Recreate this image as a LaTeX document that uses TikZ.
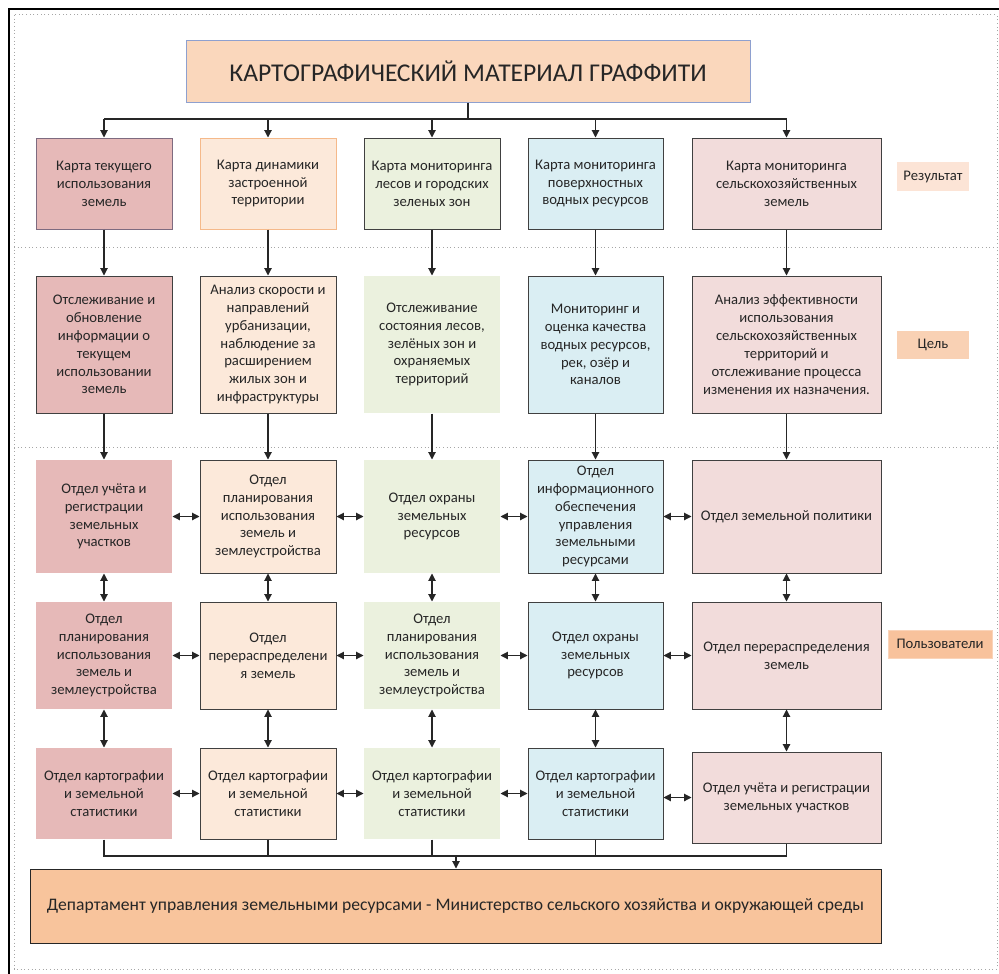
\documentclass[tikz,border=0pt]{standalone}
\usepackage{fontspec}
\setmainfont{Carlito}
\usetikzlibrary{arrows.meta}
\definecolor{pinkA}{HTML}{E6B9B8}
\definecolor{peachL}{HTML}{FCE9DA}
\definecolor{greenL}{HTML}{EBF1DE}
\definecolor{blueL}{HTML}{DAEEF3}
\definecolor{pinkL}{HTML}{F2DCDB}
\definecolor{titlefill}{HTML}{FAD7BC}
\definecolor{titleborder}{HTML}{8EA0CF}
\definecolor{bottomfill}{HTML}{F8C49C}
\definecolor{bdark}{HTML}{404040}
\definecolor{bpurple}{HTML}{7E6B80}
\definecolor{borange}{HTML}{F5B98A}
\definecolor{txt}{HTML}{262626}
\definecolor{resfill}{HTML}{FCE4D6}
\definecolor{celfill}{HTML}{F9D1B4}
\definecolor{polfill}{HTML}{F8C29C}
\begin{document}
\begin{tikzpicture}[x=0.75pt,y=-0.75pt,
  box/.style={draw=bdark, line width=0.75pt, align=center, inner sep=1pt, text=txt,
    font=\fontsize{11}{13.4}\selectfont},
  sz/.style 2 args={minimum width=#1*0.75pt, minimum height=#2*0.75pt},
  lbl/.style={align=center, inner sep=1pt, text=txt, font=\fontsize{11}{13.4}\selectfont},
  con/.style={draw=black!85, line width=0.8pt},
  arr/.style={con, -{Triangle[length=5.5pt,width=5.5pt]}},
  darr/.style={con, {Triangle[length=5.5pt,width=5.5pt]}-{Triangle[length=5.5pt,width=5.5pt]}},
  sep/.style={draw=gray!70, line width=0.75pt, dotted}]
\useasboundingbox (0,0) rectangle (999,974);
% frames
\draw[sep] (14,15) rectangle (997,969);
\draw[black, line width=2pt] (9,974) -- (9,9) -- (999,9);
\draw[sep] (14,247) -- (997,247);
\draw[sep] (14,447) -- (997,447);

% title
\node[box, draw=titleborder, fill=titlefill, sz={564}{61}, font=\fontsize{19.2}{23}\selectfont] (title) at (468,71.5) {КАРТОГРАФИЧЕСКИЙ МАТЕРИАЛ ГРАФФИТИ};

% row 1
\node[box, draw=bpurple, fill=pinkA, sz={136}{91}] (a1) at (104,183.5) {Карта текущего\\использования\\земель};
\node[box, draw=borange, fill=peachL, sz={136}{91}] (a2) at (268,183.5) {Карта динамики\\застроенной\\территории};
\node[box, fill=greenL, sz={136}{91}] (a3) at (432,183.5) {Карта мониторинга\\лесов и городских\\зеленых зон};
\node[box, fill=blueL, sz={135}{91}] (a4) at (595.5,183.5) {Карта мониторинга\\поверхностных\\водных ресурсов};
\node[box, fill=pinkL, sz={189}{91}] (a5) at (786.5,183.5) {Карта мониторинга\\сельскохозяйственных\\земель};
\node[lbl, fill=resfill, sz={72}{29}] (res) at (933,176.5) {Результат};

% row 2
\node[box, fill=pinkA, sz={136}{137}] (b1) at (104,344.5) {Отслеживание и\\обновление\\информации о\\текущем\\использовании\\земель};
\node[box, fill=peachL, sz={136}{137}] (b2) at (268,344.5) {Анализ скорости и\\направлений\\урбанизации,\\наблюдение за\\расширением\\жилых зон и\\инфраструктуры};
\node[box, draw=none, fill=greenL, sz={136}{137}] (b3) at (432,344.5) {Отслеживание\\состояния лесов,\\зелёных зон и\\охраняемых\\территорий};
\node[box, fill=blueL, sz={135}{137}] (b4) at (595.5,344.5) {Мониторинг и\\оценка качества\\водных ресурсов,\\рек, озёр и\\каналов};
\node[box, fill=pinkL, sz={189}{137}] (b5) at (786.5,344.5) {Анализ эффективности\\использования\\сельскохозяйственных\\территорий и\\отслеживание процесса\\изменения их назначения.};
\node[lbl, fill=celfill, sz={72}{28}] (cel) at (933,345) {Цель};

% row 3
\node[box, draw=none, fill=pinkA, sz={136}{113}] (c1) at (104,516.5) {Отдел учёта и\\регистрации\\земельных\\участков};
\node[box, fill=peachL, sz={136}{113}] (c2) at (268,516.5) {Отдел\\планирования\\использования\\земель и\\землеустройства};
\node[box, draw=none, fill=greenL, sz={136}{113}] (c3) at (432,516.5) {Отдел охраны\\земельных\\ресурсов};
\node[box, fill=blueL, sz={135}{113}] (c4) at (595.5,516.5) {Отдел\\информационного\\обеспечения\\управления\\земельными\\ресурсами};
\node[box, fill=pinkL, sz={189}{113}] (c5) at (786.5,516.5) {Отдел земельной политики};

% row 4
\node[box, draw=none, fill=pinkA, sz={136}{107}] (d1) at (104,655.5) {Отдел\\планирования\\использования\\земель и\\землеустройства};
\node[box, fill=peachL, sz={136}{107}] (d2) at (268,655.5) {Отдел\\перераспределени\\я земель};
\node[box, draw=none, fill=greenL, sz={136}{107}] (d3) at (432,655.5) {Отдел\\планирования\\использования\\земель и\\землеустройства};
\node[box, fill=blueL, sz={135}{107}] (d4) at (595.5,655.5) {Отдел охраны\\земельных\\ресурсов};
\node[box, fill=pinkL, sz={189}{107}] (d5) at (786.5,655.5) {Отдел перераспределения\\земель};
\node[lbl, draw=polfill!70!white, fill=polfill, sz={104}{28}] (pol) at (940,644) {Пользователи};

% row 5
\node[box, draw=none, fill=pinkA, sz={136}{91}] (e1) at (104,793.5) {Отдел картографии\\и земельной\\статистики};
\node[box, fill=peachL, sz={136}{91}] (e2) at (268,793.5) {Отдел картографии\\и земельной\\статистики};
\node[box, draw=none, fill=greenL, sz={136}{91}] (e3) at (432,793.5) {Отдел картографии\\и земельной\\статистики};
\node[box, fill=blueL, sz={135}{91}] (e4) at (595.5,793.5) {Отдел картографии\\и земельной\\статистики};
\node[box, fill=pinkL, sz={189}{91}] (e5) at (786.5,797.5) {Отдел учёта и регистрации\\земельных участков};

% bottom
\node[box, draw=black!85, fill=bottomfill, sz={851}{74}, font=\fontsize{13.2}{16}\selectfont] (dep) at (455.5,906) {Департамент управления земельными ресурсами - Министерство сельского хозяйства и окружающей среды};

% top bus
\coordinate (busT) at (468,119);
\draw[con] (title.south) -- (busT);
\draw[con] (a1.north |- busT) -- (a5.north |- busT);
\foreach \i in {1,...,5} {
  \draw[arr] (a\i.north |- busT) -- (a\i.north);
  \draw[arr] (a\i.south) -- (b\i.north);
  \draw[arr] (b\i.south) -- (c\i.north);
  \draw[darr] (c\i.south) -- (d\i.north);
  \draw[darr] (d\i.south) -- (e\i.north);
}
% horizontal links
\foreach \i/\j in {1/2,2/3,3/4,4/5} {
  \draw[darr] (c\i.east) -- (c\j.west);
  \draw[darr] (d\i.east) -- (d\j.west);
}
\foreach \i/\j in {1/2,2/3,3/4} {
  \draw[darr] (e\i.east) -- (e\j.west);
}
\draw[darr] (e5.west -| e4.east) -- (e5.west);

% bottom bus
\coordinate (busB) at (456,856);
\draw[con] (e1.south) -- (e1.south |- busB) -- (e5.south |- busB) -- (e5.south);
\foreach \i in {2,3,4} {
  \draw[con] (e\i.south) -- (e\i.south |- busB);
}
\draw[arr] (busB) -- (busB |- dep.north);
\end{tikzpicture}
\end{document}
